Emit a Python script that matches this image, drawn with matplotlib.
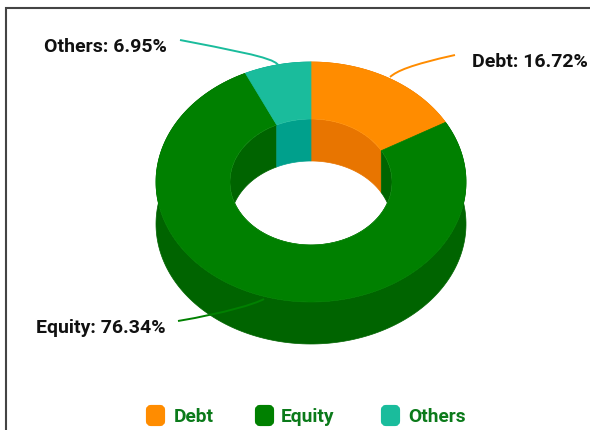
import numpy as np
import matplotlib
matplotlib.use("Agg")
import matplotlib.pyplot as plt
from matplotlib.patches import Ellipse, FancyBboxPatch, PathPatch, Polygon
from matplotlib.path import Path

categories = ["Debt", "Equity", "Others"]
shares = [16.72, 76.34, 6.95]
top_colors = ["#FF8C00", "#008000", "#1ABC9C"]
wall_colors = ["#E87500", "#006400", "#00A08C"]

# donut geometry in pixels
cx, cy = 311, 183
rx, ry = 155, 120
hole_rx, hole_ry = 81, 63
depth = 42

fig = plt.figure(figsize=(5.90, 4.31), dpi=100)
ax = fig.add_axes([0, 0, 1, 1])
ax.set_xlim(0, 590)
ax.set_ylim(431, 0)
ax.axis("off")


def arc(a0, a1, a, b, dy=0):
    # angles are degrees clockwise from 12 o'clock
    t = np.radians(np.linspace(a0, a1, 200))
    return np.column_stack([cx + a * np.sin(t), cy + dy - b * np.cos(t)])


edges = np.cumsum([0] + shares) / sum(shares) * 360

# outer wall
for i in range(len(shares)):
    pts = np.vstack([arc(edges[i], edges[i + 1], rx, ry),
                     arc(edges[i + 1], edges[i], rx, ry, depth)])
    ax.add_patch(Polygon(pts, fc=wall_colors[i], ec=wall_colors[i], lw=0.5, zorder=1))

# hole and the inner wall seen through it
hole = Ellipse((cx, cy), 2 * hole_rx, 2 * hole_ry, fc="white", ec="none", zorder=2)
ax.add_patch(hole)
for i in range(len(shares)):
    pts = np.vstack([arc(edges[i], edges[i + 1], hole_rx, hole_ry),
                     arc(edges[i + 1], edges[i], hole_rx, hole_ry, depth)])
    wall = Polygon(pts, fc=wall_colors[i], ec=wall_colors[i], lw=0.5, zorder=3)
    ax.add_patch(wall)
    wall.set_clip_path(hole)

# top face
for i in range(len(shares)):
    pts = np.vstack([arc(edges[i], edges[i + 1], rx, ry),
                     arc(edges[i + 1], edges[i], hole_rx, hole_ry)])
    ax.add_patch(Polygon(pts, fc=top_colors[i], ec=top_colors[i], lw=0.5, zorder=4))

# leader lines
leaders = [
    [(455, 56), (410, 66), (397, 72), (390, 78)],
    [(178, 322), (225, 314), (255, 305), (264, 300)],
    [(180, 41), (225, 50), (274, 58), (278, 66)],
]
for i, verts in enumerate(leaders):
    path = Path(verts, [Path.MOVETO, Path.CURVE4, Path.CURVE4, Path.CURVE4])
    ax.add_patch(PathPatch(path, fc="none", ec=top_colors[i], lw=1.4, zorder=5))

# slice labels
label_x = [472, 36, 44]
label_y = [62, 328, 47]
for i in range(len(shares)):
    ax.text(label_x[i], label_y[i], f"{categories[i]}: {shares[i]:.2f}%", fontsize=14,
            family="Roboto", fontweight="bold", color="#111111", ha="left", va="center")

# legend
box_x = [146, 255, 381]
text_x = [174, 281, 408]
for i in range(len(shares)):
    ax.add_patch(FancyBboxPatch((box_x[i] + 2, 408), 15, 17, boxstyle="round,pad=0,rounding_size=3",
                                mutation_scale=1, fc=top_colors[i], ec=top_colors[i], lw=3))
    ax.text(text_x[i], 417, categories[i], fontsize=13.8, family="Roboto", fontweight="bold",
            color="#0B7A1A", ha="left", va="center")

# frame, top and left only
ax.plot([5.5, 5.5, 590], [431, 9, 9], color="#444444", lw=1.5, zorder=6, solid_joinstyle="miter")

fig.savefig("out.png", dpi=100)
